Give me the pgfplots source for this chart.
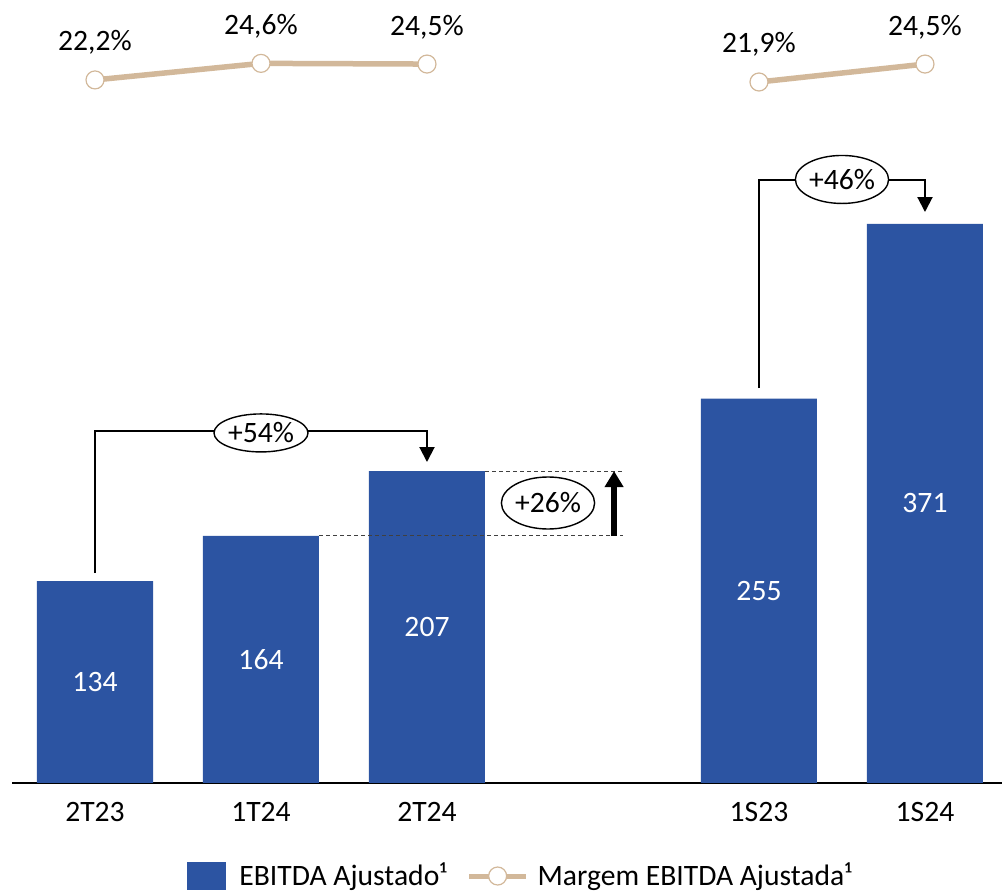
\documentclass[border=0pt]{standalone}
\usepackage{fontspec}
\setmainfont{Carlito}
\usepackage{pgfplots}
\pgfplotsset{compat=1.18}
\usetikzlibrary{arrows.meta,shapes.geometric}
\definecolor{barblue}{RGB}{44,84,162}
\definecolor{tanline}{RGB}{210,184,154}
\pgfplotsset{/pgf/number format/assume math mode=true}
\begin{document}
\begin{tikzpicture}[font=\fontsize{14.8}{17.5}\selectfont]
\useasboundingbox (-6pt,-54.5pt) rectangle (495pt,391.5pt);
\begin{axis}[
  at={(0,0)}, anchor=south west,
  scale only axis, width=495pt, height=391.5pt,
  xmin=-0.5, xmax=5.4639, ymin=0, ymax=519.6,
  axis x line*=bottom, axis y line=none,
  x axis line style={line width=1pt, -},
  xtick={0,1,2,4,5}, xticklabels={2T23,1T24,2T24,1S23,1S24},
  major tick length=0pt,
  xticklabel style={anchor=base, yshift=-19.5pt},
  ytick=\empty,
  clip=false,
  legend columns=2,
  legend style={at={(axis description cs:0.1768,-0.1188)}, anchor=west, draw=none, fill=none,
    inner sep=0pt, /tikz/every even column/.append style={column sep=8pt}},
]
\addplot[ybar, fill=barblue, draw=none, bar width=58pt,
  visualization depends on={rawy \as \rawy},
  nodes near coords,
  every node near coord/.append style={white, anchor=center, shift={(axis direction cs:0,-\rawy/2)}},
  legend image code/.code={\fill[barblue] (0pt,-7pt) rectangle (19.5pt,7pt);}
] coordinates {(0,134) (1,164) (2,207) (4,255) (5,371)};
\addlegendentry{\hspace{4.5pt}EBITDA Ajustado¹}
\addlegendimage{legend image code/.code={\draw[tanline, line width=2.5pt] (0pt,0pt) -- (28.5pt,0pt); \draw[tanline, fill=white, line width=0.6pt] (14.25pt,0pt) circle (4.5pt);}}
\addlegendentry{\hspace{2.5pt}Margem EBITDA Ajustada¹}

% +54%
\draw[line width=1pt, -{Triangle[width=7.5pt,length=7.5pt]}] (axis cs:0,139.3) -- (axis cs:0,233.6) -- (axis cs:2,233.6) -- (axis cs:2,213.0);
\node[draw, ellipse, fill=white, line width=0.7pt, minimum width=47pt, minimum height=19pt, inner sep=0pt] at (axis cs:1,232.3) {+54\%};
% +46%
\draw[line width=1pt, -{Triangle[width=7.5pt,length=7.5pt]}] (axis cs:4,262.1) -- (axis cs:4,400.1) -- (axis cs:5,400.1) -- (axis cs:5,378.9);
\node[draw, ellipse, fill=white, line width=0.7pt, minimum width=46pt, minimum height=24pt, inner sep=0pt] at (axis cs:4.5,400.5) {+46\%};
% +26%
\draw[black!75, line width=0.5pt, dash pattern=on 2pt off 1.5pt] (axis cs:2.35,207) -- (axis cs:3.18,207);
\draw[black!75, line width=0.5pt, dash pattern=on 2pt off 1.5pt] (axis cs:1.35,164) -- (axis cs:3.18,164);
\draw[line width=3pt, -{Triangle[width=9pt,length=8pt]}] (axis cs:3.127,164) -- (axis cs:3.127,207);
\node[draw, ellipse, fill=white, line width=0.7pt, minimum width=46.5pt, minimum height=26pt, inner sep=0pt] at (axis cs:2.729,185.8) {+26\%};
\end{axis}
\begin{axis}[
  at={(0,0)}, anchor=south west,
  scale only axis, width=495pt, height=391.5pt,
  xmin=-0.5, xmax=5.4639, ymin=-79.69, ymax=33.79,
  hide axis, clip=false,
  nodes near coords={\pgfmathprintnumber[fixed, fixed zerofill, precision=1, use comma]{\pgfplotspointmeta}\%},
  every node near coord/.append style={black, anchor=base, inner sep=0pt, yshift=14.5pt},
]
\addplot[tanline, line width=2.75pt, mark=*, mark size=4.5pt, mark options={fill=white, draw=tanline, line width=0.6pt}]
  coordinates {(0,22.2) (1,24.6) (2,24.5)};
\addplot[tanline, line width=2.75pt, mark=*, mark size=4.5pt, mark options={fill=white, draw=tanline, line width=0.6pt}]
  coordinates {(4,21.9) (5,24.5)};
\end{axis}
\end{tikzpicture}
\end{document}
